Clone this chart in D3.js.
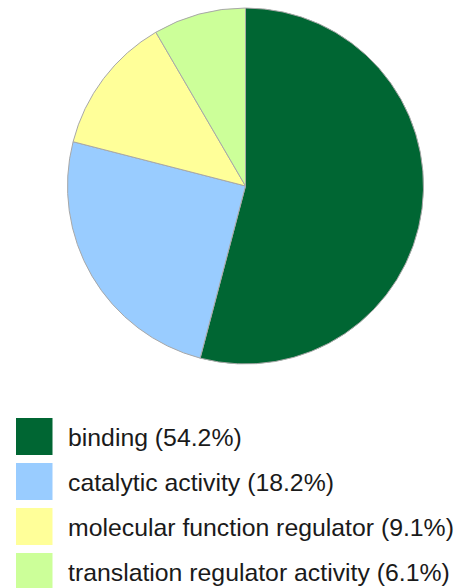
<!DOCTYPE html>
<html lang="en">
<head>
<meta charset="utf-8" />
<title>molecular function pie</title>
<style>
  * {margin: 0; padding: 0;}
  body {background: #fff;}
  text {font-family: "Liberation Sans", Arial, Helvetica, sans-serif;}
</style>
<script src="https://cdn.jsdelivr.net/npm/d3@7"></script>
</head>
<body>
<div id="viz"></div>
<script>
// categories, legend labels and slice sizes (slice sizes)
var categories = ["binding", "catalytic activity", "molecular function regulator", "translation regulator activity"];
var labels = ["binding (54.2%)", "catalytic activity (18.2%)", "molecular function regulator (9.1%)", "translation regulator activity (6.1%)"];
var sliceValues = [54.1, 24.9, 12.6, 8.4];
var colours = ["#006633", "#99ccff", "#ffff99", "#ccff99"];

var w = 456, h = 588;
var cx = 245.5, cy = 186, r = 178;

var svg = d3.select("#viz").append("svg").attr("width", w).attr("height", h);

var colour = d3.scaleOrdinal().domain(categories).range(colours);

var pie = d3.pie().sort(null).value(function(d){ return d.v; });
var arc = d3.arc().innerRadius(0).outerRadius(r);

var data = categories.map(function(c, i){ return {c: c, v: sliceValues[i]}; });

svg.append("g")
    .attr("transform", "translate(" + cx + "," + cy + ")")
  .selectAll("path")
    .data(pie(data))
    .enter()
    .append("path")
    .attr("d", arc)
    .style("fill", function(d){ return colour(d.data.c); })
    .style("stroke", "#a8a8a8")
    .style("stroke-width", 1);

// legend
var rowY = d3.scaleBand().domain(categories).range([418, 598]).paddingInner(0);

var leg = svg.append("g").selectAll("g")
    .data(categories)
    .enter()
    .append("g")
    .attr("transform", function(d){ return "translate(0," + rowY(d) + ")"; });

leg.append("rect")
    .attr("x", 16)
    .attr("width", 36.5)
    .attr("height", 37)
    .style("fill", function(d){ return colour(d); });

leg.append("text")
    .attr("x", 68)
    .attr("y", 27.7)
    .style("font-size", "24.8px")
    .style("fill", "#1a1a1a")
    .text(function(d, i){ return labels[i]; });
</script>
</body>
</html>
